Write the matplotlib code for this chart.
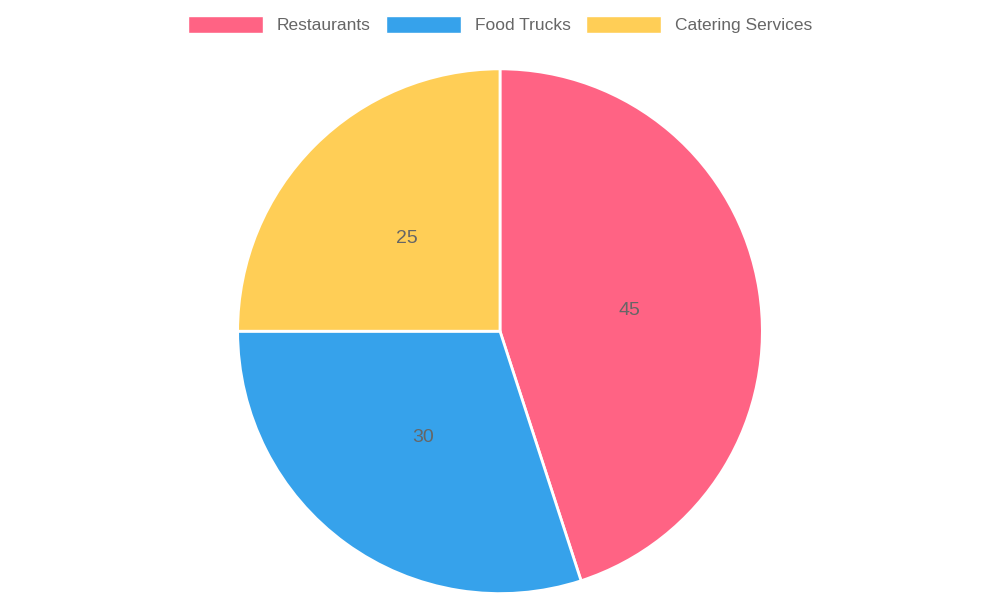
import matplotlib
matplotlib.use("Agg")
import matplotlib.pyplot as plt
from matplotlib.patches import Rectangle

plt.rcParams['font.family'] = ['Liberation Sans', 'DejaVu Sans']

categories = ["Restaurants", "Food Trucks", "Catering Services"]
values = [45, 30, 25]
colors = ["#FF6384", "#36A2EB", "#FFCE56"]

fig = plt.figure(figsize=(10, 6), dpi=100)
ax = fig.add_axes([0.5 - 0.265, 0.448 - 0.4417, 0.53, 0.8833])
wedges, texts, autotexts = ax.pie(values, colors=colors, startangle=90, counterclock=False,
       autopct=lambda p: f"{p * sum(values) / 100:.0f}", pctdistance=0.5,
       wedgeprops=dict(edgecolor="white", linewidth=2),
       textprops=dict(color="#666666", fontsize=14))
ax.set_xlim(-1.01, 1.01); ax.set_ylim(-1.01, 1.01)
ax.set_aspect('equal')
ax.axis('off')

handles = [Rectangle((0, 0), 1, 1, facecolor=c, edgecolor="white") for c in colors]
leg = fig.legend(handles, categories, loc="upper center", bbox_to_anchor=(0.5, 1.0), ncol=3,
           frameon=False, fontsize=12.5, handlelength=4.3, handleheight=1.2,
           columnspacing=0.9, handletextpad=0.8, labelcolor="#666666")
fig.savefig("out.png", dpi=100)
